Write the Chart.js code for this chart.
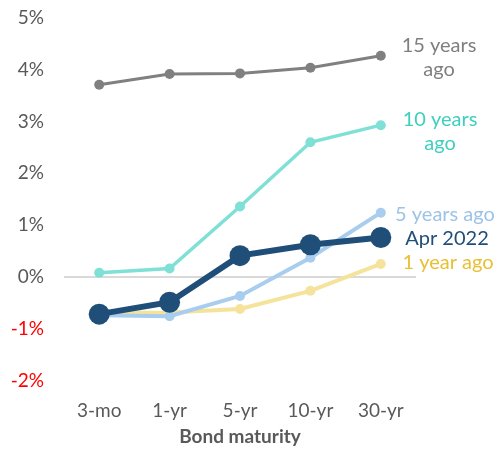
<!DOCTYPE html>
<html>
<head>
<meta charset="utf-8">
<script src="https://cdn.jsdelivr.net/npm/chart.js@4/dist/chart.umd.min.js"></script>
<style>
  html, body { margin: 0; padding: 0; background: #fff; }
  #wrap { width: 496px; height: 450px; }
</style>
</head>
<body>
<div id="wrap"><canvas id="chart" width="496" height="450"></canvas></div>
<script>
const maturities = ["3-mo", "1-yr", "5-yr", "10-yr", "30-yr"];
const yieldsApr2022 = [-0.72, -0.49, 0.41, 0.62, 0.76];
const yields1yAgo = [-0.70, -0.69, -0.62, -0.27, 0.25];
const yields5yAgo = [-0.74, -0.76, -0.37, 0.37, 1.24];
const yields10yAgo = [0.08, 0.16, 1.36, 2.60, 2.93];
const yields15yAgo = [3.71, 3.92, 3.93, 4.04, 4.27];
const yTicks = [-2, -1, 0, 1, 2, 3, 4, 5];

const FONT = "Lato, 'Open Sans', sans-serif";

// series label text placed to the right of the plot (y is the value the text block is centred on)
const seriesLabels = [
  { lines: ["15 years", "ago"], color: "#7f7f7f", y: 4.24, dx: 23 },
  { lines: ["10 years", "ago"], color: "#3fcfbf", y: 2.81, dx: 24 },
  { lines: ["5 years ago"], color: "#9dc3e6", y: 1.20, dx: 29 },
  { lines: ["Apr 2022"], color: "#1f4e79", y: 0.74, dx: 31 },
  { lines: ["1 year ago"], color: "#e8c034", y: 0.27, dx: 32 }
];

const sideLabels = {
  id: "sideLabels",
  afterDraw(chart) {
    const { ctx, chartArea, scales } = chart;
    ctx.save();
    ctx.font = "20px " + FONT;
    ctx.textAlign = "center";
    ctx.textBaseline = "middle";
    seriesLabels.forEach((lab) => {
      const x = chartArea.right + lab.dx;
      const y0 = scales.y.getPixelForValue(lab.y);
      const startY = y0 - (lab.lines.length - 1) * 12;
      ctx.fillStyle = lab.color;
      lab.lines.forEach((t, i) => ctx.fillText(t, x, startY + i * 24));
    });
    ctx.restore();
  }
};

function series(label, data, color, width, radius, order) {
  return {
    label,
    data,
    borderColor: color,
    backgroundColor: color,
    pointBackgroundColor: color,
    pointBorderWidth: 0,
    borderWidth: width,
    pointRadius: radius,
    pointHoverRadius: radius,
    tension: 0,
    order
  };
}

new Chart(document.getElementById("chart"), {
  type: "line",
  data: {
    labels: maturities,
    datasets: [
      series("15 years ago", yields15yAgo, "#808080", 3, 5, 5),
      series("10 years ago", yields10yAgo, "#7fe0d6", 3.5, 5, 4),
      series("1 year ago", yields1yAgo, "#f5e39c", 4, 5, 3),
      series("5 years ago", yields5yAgo, "#a9cdee", 4, 5, 2),
      series("Apr 2022", yieldsApr2022, "#1f4e79", 6, 10.5, 1)
    ]
  },
  options: {
    animation: false,
    responsive: false,
    events: [],
    layout: { padding: { top: 18, right: 80, left: 12, bottom: 2 } },
    plugins: {
      legend: { display: false },
      tooltip: { enabled: false }
    },
    scales: {
      x: {
        offset: true,
        afterFit(axis) {
          axis.paddingLeft = 0;
          axis.paddingRight = 0;
        },
        grid: { display: false, drawTicks: false },
        border: { display: false },
        ticks: { color: "#595959", font: { family: FONT, size: 19 }, padding: 19 },
        title: {
          display: true,
          text: "Bond maturity",
          color: "#595959",
          font: { family: FONT, size: 19, weight: "bold" },
          padding: { top: -16, bottom: 0 }
        }
      },
      y: {
        min: yTicks[0],
        max: yTicks[yTicks.length - 1],
        afterBuildTicks(axis) {
          axis.ticks = yTicks.map((v) => ({ value: v }));
        },
        afterFit(axis) {
          axis.width = 52;
          axis.paddingTop = 0;
          axis.paddingBottom = 0;
        },
        grid: {
          drawTicks: false,
          color: (c) => (c.tick && c.tick.value === 0 ? "#d9d9d9" : "rgba(0,0,0,0)"),
          lineWidth: 2
        },
        border: { display: false },
        ticks: {
          padding: 20,
          color: (c) => (c.tick.value < 0 ? "#ff0000" : "#595959"),
          font: { family: FONT, size: 19 },
          callback: (v) => v + "%"
        }
      }
    }
  },
  plugins: [sideLabels]
});
</script>
</body>
</html>
